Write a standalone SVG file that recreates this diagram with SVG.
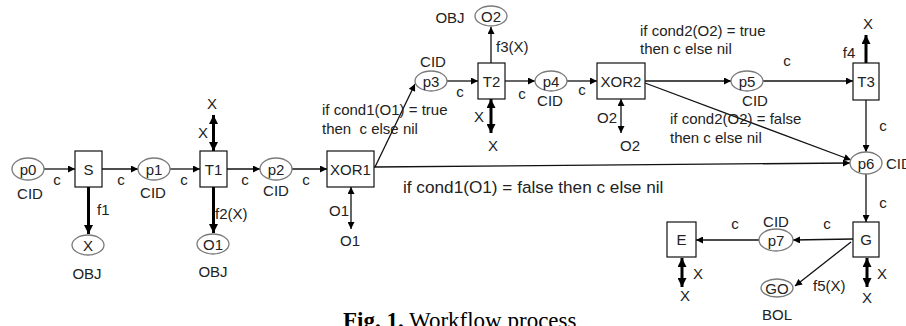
<svg xmlns="http://www.w3.org/2000/svg" width="906" height="326" viewBox="0 0 906 326">
<defs>
<marker id="ah" viewBox="0 0 10 10" refX="10" refY="5" markerWidth="9" markerHeight="7" markerUnits="userSpaceOnUse" orient="auto-start-reverse"><path d="M0,0 L10,5 L0,10 z" fill="#000"/></marker>
<marker id="ahb" viewBox="0 0 10 10" refX="10" refY="5" markerWidth="10" markerHeight="9" markerUnits="userSpaceOnUse" orient="auto-start-reverse"><path d="M0,0 L10,5 L0,10 z" fill="#000"/></marker>
<style>
text{font-family:"Liberation Sans",Arial,sans-serif;font-size:15px;fill:#222}
.m{text-anchor:middle;dominant-baseline:central}
.l{dominant-baseline:central}
.pl{fill:#fff;stroke:#7a7a7a;stroke-width:1.3}
.tr{fill:#fff;stroke:#111;stroke-width:1.2}
.e{fill:none;stroke:#111;stroke-width:1.3;marker-end:url(#ah)}
.b{fill:none;stroke:#111;stroke-width:1.3;marker-start:url(#ah);marker-end:url(#ah)}
.te{fill:none;stroke:#000;stroke-width:3;marker-end:url(#ahb)}
.tb{fill:none;stroke:#000;stroke-width:3;marker-start:url(#ahb);marker-end:url(#ahb)}
.cap{font-family:"Liberation Serif","Times New Roman",serif;font-size:23px;fill:#000}
</style>
</defs>
<g id="connectors">
<path class="e" d="M44,169 L75,169"/>
<path class="e" d="M102,169 L138,169"/>
<path class="e" d="M170,169 L200,169"/>
<path class="e" d="M227,169 L260,169"/>
<path class="e" d="M292,169 L327,169"/>
<path class="te" d="M88.5,187 L88.5,234"/>
<path class="te" d="M213.5,187 L213.5,233"/>
<path class="tb" d="M213.5,115 L213.5,151"/>
<path class="b" d="M351,187 L351,229"/>
<path class="e" d="M375,167 L415,84"/>
<path class="e" d="M374,167 L850,163"/>
<path class="e" d="M447,81 L478,81"/>
<path class="e" d="M505,81 L535,81"/>
<path class="e" d="M567,81 L597,81"/>
<path class="e" d="M491,63 L491,27"/>
<path class="tb" d="M491,99 L491,133"/>
<path class="b" d="M621,99 L621,133"/>
<path class="e" d="M645,81 L731,81"/>
<path class="e" d="M763,81 L853,81"/>
<path class="te" d="M866,63 L866,35"/>
<path class="e" d="M866,100 L866,152"/>
<path class="e" d="M645,83 L851,160"/>
<path class="e" d="M866,174 L866,222"/>
<path class="e" d="M853,239 L793,240"/>
<path class="e" d="M759,240 L696,240"/>
<path class="tb" d="M682,258 L682,287"/>
<path class="e" d="M851,242 L795,286"/>
<path class="tb" d="M867,258 L867,287"/>
</g>
<g id="labels">
<text class="m" x="57" y="179">c</text>
<text class="m" x="121" y="179">c</text>
<text class="m" x="184" y="179">c</text>
<text class="m" x="245" y="179">c</text>
<text class="m" x="306" y="179">c</text>
<text class="l" x="97" y="209">f1</text>
<text class="l" x="215" y="213">f2(X)</text>
<text class="m" x="212" y="103">X</text>
<text class="m" x="203" y="132">X</text>
<text class="m" x="339" y="210">O1</text>
<text class="m" x="350" y="240">O1</text>
<text class="l" x="322" y="109">if cond1(O1) = true</text>
<text class="l" x="322" y="128" xml:space="preserve">then  c else nil</text>
<text class="l" x="403" y="187" style="font-size:17.2px">if cond1(O1) = false then c else nil</text>
<text class="m" x="460" y="91">c</text>
<text class="m" x="522" y="93">c</text>
<text class="m" x="582" y="89">c</text>
<text class="l" x="496" y="46">f3(X)</text>
<text class="m" x="479" y="116">X</text>
<text class="m" x="493" y="145">X</text>
<text class="m" x="607" y="117">O2</text>
<text class="m" x="630" y="145">O2</text>
<text class="l" x="640" y="30">if cond2(O2) = true</text>
<text class="l" x="640" y="48">then c else nil</text>
<text class="m" x="787" y="60">c</text>
<text class="m" x="868" y="23">X</text>
<text class="m" x="849" y="52">f4</text>
<text class="m" x="883" y="125">c</text>
<text class="l" x="670" y="118">if cond2(O2) = false</text>
<text class="l" x="670" y="137">then c else nil</text>
<text class="m" x="883" y="202">c</text>
<text class="m" x="827" y="223">c</text>
<text class="m" x="735" y="223">c</text>
<text class="m" x="698" y="273">X</text>
<text class="m" x="685" y="295">X</text>
<text class="l" x="813" y="285">f5(X)</text>
<text class="m" x="882" y="273">X</text>
<text class="m" x="867" y="297">X</text>
</g>
<g id="p0"><ellipse class="pl" cx="28" cy="169" rx="16" ry="11"/><text class="m" x="28" y="169">p0</text><text class="m" x="30" y="193">CID</text></g>
<g id="S"><rect class="tr" x="75" y="151" width="27" height="36"/><text class="m" x="88.5" y="169">S</text></g>
<g id="p1"><ellipse class="pl" cx="154" cy="169" rx="16" ry="11"/><text class="m" x="154" y="169">p1</text><text class="m" x="153" y="192">CID</text></g>
<g id="T1"><rect class="tr" x="200" y="151" width="27" height="36"/><text class="m" x="213.5" y="169">T1</text></g>
<g id="p2"><ellipse class="pl" cx="276" cy="169" rx="16" ry="11"/><text class="m" x="276" y="169">p2</text><text class="m" x="276" y="190">CID</text></g>
<g id="XOR1"><rect class="tr" x="327" y="151" width="47" height="36"/><text class="m" x="350.5" y="169">XOR1</text></g>
<g id="X1"><ellipse class="pl" cx="88" cy="245" rx="16" ry="10"/><text class="m" x="88" y="245">X</text><text class="m" x="87" y="273">OBJ</text></g>
<g id="O1"><ellipse class="pl" cx="213" cy="244" rx="16" ry="10"/><text class="m" x="213" y="244">O1</text><text class="m" x="213" y="271">OBJ</text></g>
<g id="p3"><ellipse class="pl" cx="431" cy="81" rx="16" ry="10"/><text class="m" x="431" y="81">p3</text><text class="m" x="433" y="61">CID</text></g>
<g id="T2"><rect class="tr" x="478" y="63" width="27" height="36"/><text class="m" x="491.5" y="81">T2</text></g>
<g id="O2"><ellipse class="pl" cx="491" cy="16" rx="16" ry="10"/><text class="m" x="491" y="16">O2</text><text class="m" x="450" y="17">OBJ</text></g>
<g id="p4"><ellipse class="pl" cx="551" cy="81" rx="16" ry="10"/><text class="m" x="551" y="81">p4</text><text class="m" x="550" y="100">CID</text></g>
<g id="XOR2"><rect class="tr" x="597" y="63" width="48" height="36"/><text class="m" x="621" y="81">XOR2</text></g>
<g id="p5"><ellipse class="pl" cx="747" cy="81" rx="16" ry="10"/><text class="m" x="747" y="81">p5</text><text class="m" x="755" y="100">CID</text></g>
<g id="T3"><rect class="tr" x="853" y="63" width="26" height="37"/><text class="m" x="866" y="81">T3</text></g>
<g id="p6"><ellipse class="pl" cx="866" cy="163" rx="16" ry="11"/><text class="m" x="866" y="163">p6</text><text class="l" x="886" y="163">CID</text></g>
<g id="G"><rect class="tr" x="853" y="222" width="26" height="35"/><text class="m" x="866" y="239.5">G</text></g>
<g id="p7"><ellipse class="pl" cx="776" cy="240" rx="17" ry="11"/><text class="m" x="776" y="240">p7</text><text class="m" x="776" y="221">CID</text></g>
<g id="E"><rect class="tr" x="667" y="222" width="29" height="35"/><text class="m" x="681.5" y="239.5">E</text></g>
<g id="GO"><ellipse class="pl" cx="777" cy="288" rx="16" ry="9"/><text class="m" x="777" y="288">GO</text><text class="m" x="777" y="314">BOL</text></g>
<text class="cap" x="343" y="328"><tspan font-weight="bold">Fig. 1.</tspan> Workflow process</text>
</svg>
